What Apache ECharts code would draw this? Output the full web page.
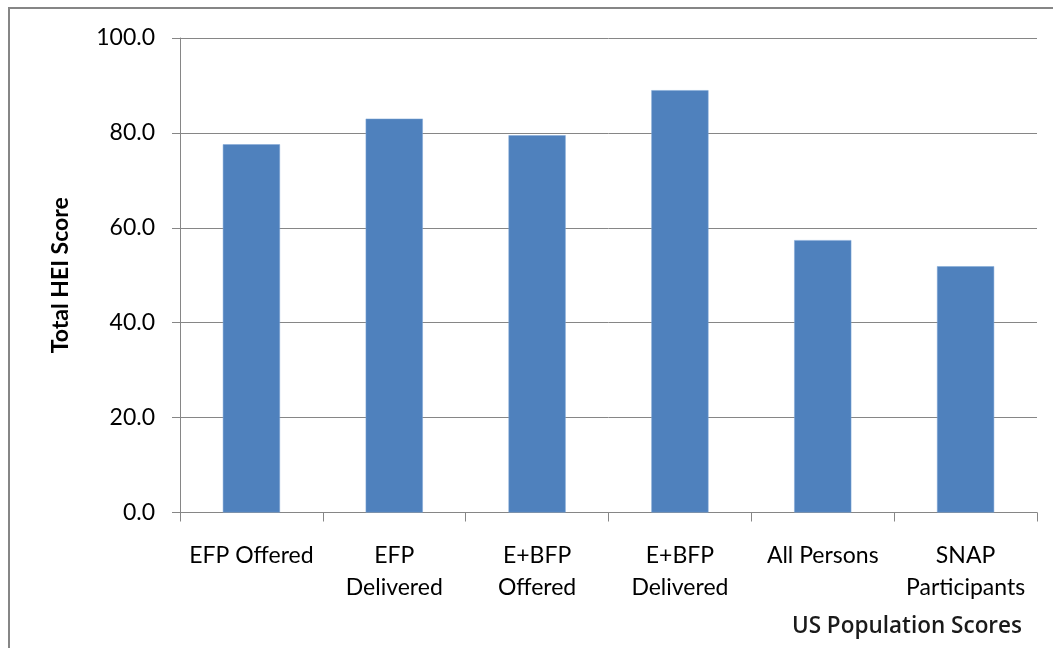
<!DOCTYPE html>
<html>
<head>
<meta charset="utf-8">
<script src="https://cdn.jsdelivr.net/npm/echarts@6/dist/echarts.min.js"></script>
<style>
html,body{margin:0;padding:0;background:#fff;}
#chart{width:1053px;height:648px;}
</style>
</head>
<body>
<div id="chart"></div>
<script>
var categories = ['EFP Offered', 'EFP\nDelivered', 'E+BFP\nOffered', 'E+BFP\nDelivered', 'All Persons', 'SNAP\nParticipants'];
var scores = [77.6, 83.0, 79.5, 89.0, 57.4, 51.9];
var yTicks = [0, 20, 40, 60, 80, 100];
var xTitle = 'US Population Scores';
var yTitle = 'Total HEI Score';

var chart = echarts.init(document.getElementById('chart'), null, {renderer: 'canvas'});
var font = 'Lato, "Open Sans", "DejaVu Sans", sans-serif';
chart.setOption({
  animation: false,
  backgroundColor: '#ffffff',
  graphic: [{
    type: 'rect',
    shape: {x: 9, y: 8, width: 1100, height: 700},
    style: {fill: 'none', stroke: '#868686', lineWidth: 2},
    silent: true
  }, {
    type: 'text',
    right: 31,
    top: 615,
    style: {text: xTitle, font: '600 22.5px "Open Sans", Lato, sans-serif', fill: '#1a1a1a'},
    silent: true
  }],
  grid: {left: 180, right: 16, top: 38, bottom: 135.5, containLabel: false},
  xAxis: {
    type: 'category',
    data: categories,
    axisLine: {show: true, lineStyle: {color: '#868686', width: 1}},
    axisTick: {show: true, alignWithLabel: false, length: 9, lineStyle: {color: '#868686'}},
    axisLabel: {
      interval: 0, margin: 27, fontFamily: font, fontSize: 23, color: '#000',
      lineHeight: 32
    }
  },
  yAxis: {
    type: 'value',
    min: yTicks[0],
    max: yTicks[yTicks.length - 1],
    interval: 20,
    name: yTitle,
    nameLocation: 'middle',
    nameGap: 108,
    nameRotate: 90,
    nameTextStyle: {fontFamily: font, fontSize: 23, fontWeight: 'bold', color: '#000'},
    axisLine: {show: true, lineStyle: {color: '#868686', width: 1}},
    axisTick: {show: true, length: 8, lineStyle: {color: '#868686'}},
    splitLine: {show: true, lineStyle: {color: '#868686', width: 1}},
    axisLabel: {
      margin: 25, fontFamily: font, fontSize: 23, color: '#000',
      formatter: function (v) { return v.toFixed(1); }
    }
  },
  series: [{
    type: 'bar',
    data: scores,
    barWidth: '40%',
    itemStyle: {color: '#4F81BD', borderColor: '#7FA6D6', borderWidth: 0.5}
  }]
});
</script>
</body>
</html>
